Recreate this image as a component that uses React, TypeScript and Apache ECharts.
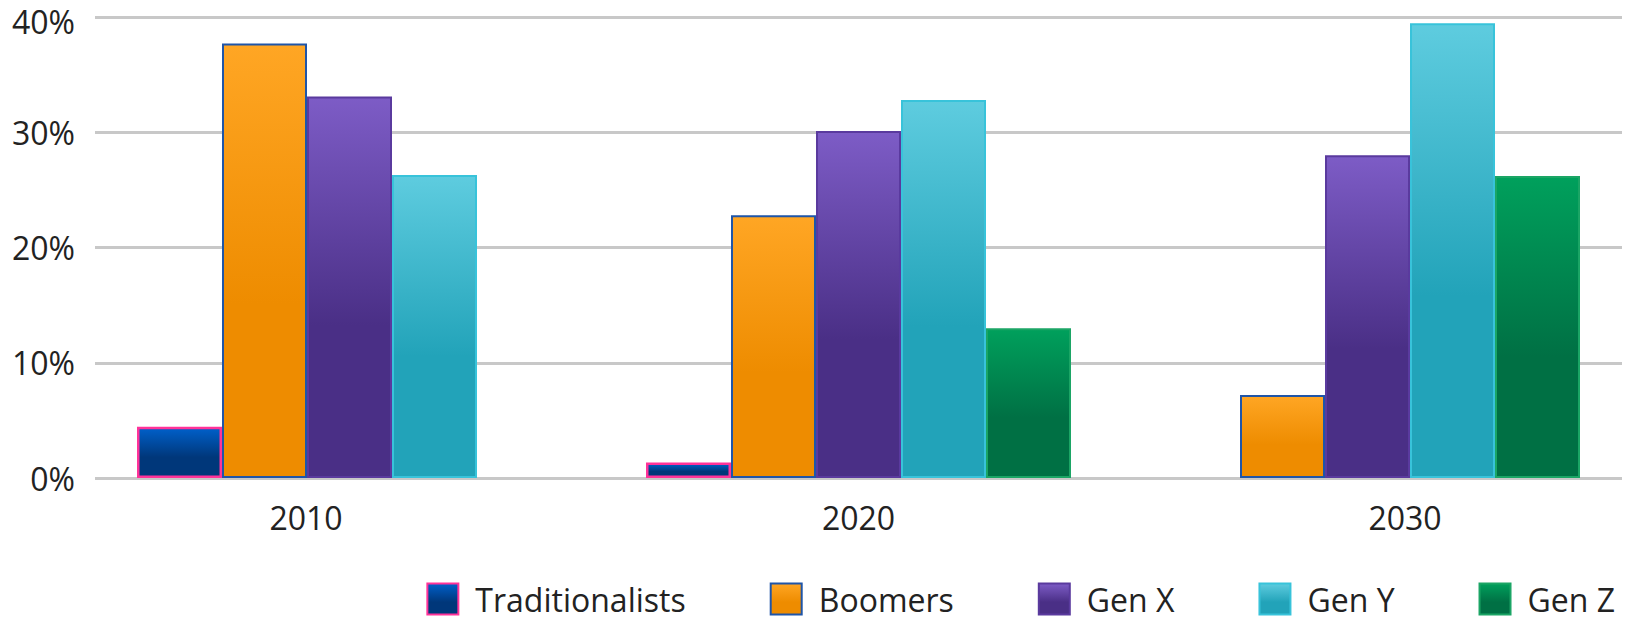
import React, { useEffect, useRef } from "react";
import * as echarts from "echarts";

const categories = ["2010", "2020", "2030"];
const seriesNames = ["Traditionalists", "Boomers", "Gen X", "Gen Y", "Gen Z"];
const traditionalists = [4.45, 1.35, null];
const boomers = [37.7, 22.8, 7.2];
const genX = [33.1, 30.1, 28.0];
const genY = [26.3, 32.8, 39.45];
const genZ = [null, 13.0, 26.2];
const yTicks = [0, 10, 20, 30, 40];

const seriesData = [traditionalists, boomers, genX, genY, genZ];
const styles = [
  { top: "#0060CA", bottom: "#00377A", border: "#FF3399", bw: 2.5 },
  { top: "#FFA624", bottom: "#EE8C00", border: "#1F55A8", bw: 2 },
  { top: "#7D5CC6", bottom: "#4A2F86", border: "#5A3A9E", bw: 2 },
  { top: "#5ECCDF", bottom: "#22A3B9", border: "#38C3DA", bw: 2 },
  { top: "#00A05C", bottom: "#007044", border: "#1BA565", bw: 2 },
];

const FONT = "'Open Sans', sans-serif";
const TXT = { fontFamily: FONT, fontSize: 32, color: "#222222" };

export default function App() {
  const ref = useRef<HTMLDivElement>(null);
  useEffect(() => {
    document.body.style.margin = "0";
    if (!ref.current) return;
    const chart = echarts.init(ref.current, null, { renderer: "svg" });
    const maxTick = yTicks[yTicks.length - 1];
    chart.setOption({
      animation: false,
      backgroundColor: "#ffffff",
      grid: { left: 95, right: 10, top: 17, bottom: 142, outerBoundsMode: "none", containLabel: false },
      xAxis: {
        type: "category",
        data: categories,
        axisLine: { show: false },
        axisTick: { show: false },
        axisLabel: {
          margin: 22,
          ...TXT,
          lineHeight: 34,
          formatter: (v: string, i: number) =>
            i === 0 ? `{l|${v}}` : i === 2 ? `{r|${v}}` : `{c|${v}}`,
          rich: {
            l: { ...TXT, lineHeight: 34, padding: [0, 87, 0, 0] },
            c: { ...TXT, lineHeight: 34 },
            r: { ...TXT, lineHeight: 34, padding: [0, 0, 0, 75] },
          },
        },
      },
      yAxis: {
        type: "value",
        min: yTicks[0],
        max: maxTick,
        interval: 10,
        axisLine: { show: false },
        axisTick: { show: false },
        splitLine: { lineStyle: { color: "#C8C8C8", width: 3 } },
        axisLabel: {
          margin: 20,
          ...TXT,
          lineHeight: 32,
          formatter: (v: number) => (v === maxTick ? `{t|${v}%}` : `${v}%`),
          rich: {
            t: { ...TXT, lineHeight: 32, padding: [8, 0, 0, 0] },
          },
        },
      },
      legend: {
        right: 12,
        top: 574,
        icon: "rect",
        itemWidth: 31,
        itemHeight: 31,
        itemGap: 84,
        textStyle: {
          ...TXT,
          lineHeight: 30,
          padding: [10, 0, 0, 12],
        },
        data: seriesNames,
      },
      series: seriesNames.map((name, i) => ({
        name,
        type: "bar",
        data: seriesData[i].map((v) => (v === null ? "-" : v)),
        barWidth: 85,
        barGap: "0%",
        itemStyle: {
          color: new echarts.graphic.LinearGradient(0, 0, 0, 1, [
            { offset: 0, color: styles[i].top },
            { offset: 0.6, color: styles[i].bottom },
            { offset: 1, color: styles[i].bottom },
          ]),
          borderColor: styles[i].border,
          borderWidth: styles[i].bw,
        },
      })),
    });
    return () => chart.dispose();
  }, []);
  return <div ref={ref} style={{ width: 1632, height: 620 }} />;
}
